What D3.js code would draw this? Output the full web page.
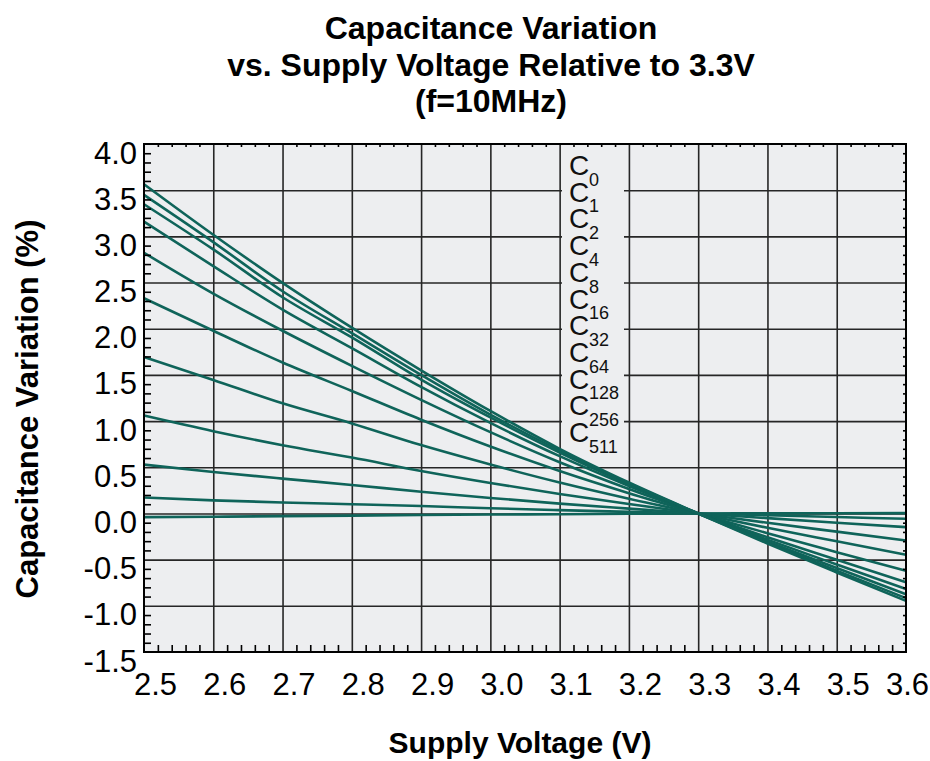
<!DOCTYPE html>
<html><head><meta charset="utf-8">
<script src="https://cdn.jsdelivr.net/npm/d3@7/dist/d3.min.js"></script>
<style>body{margin:0;background:#fff}svg{display:block}</style>
</head><body>
<svg id="chart" width="930" height="761"></svg>
<script>
// ---- data ----
const voltages = [2.5, 2.6, 2.7, 2.8, 2.9, 3.0, 3.1, 3.2, 3.3, 3.4, 3.5, 3.6];
const codes = ["0", "1", "2", "4", "8", "16", "32", "64", "128", "256", "511"];
const vC0   = [-0.040, -0.035, -0.029, -0.023, -0.017, -0.012, -0.008, -0.004, 0, 0.001, 0.003, 0.004];
const vC1   = [0.172, 0.142, 0.119, 0.100, 0.080, 0.057, 0.036, 0.017, 0, -0.020, -0.039, -0.058];
const vC2   = [0.529, 0.449, 0.377, 0.308, 0.235, 0.168, 0.106, 0.052, 0, -0.051, -0.100, -0.148];
const vC4   = [1.060, 0.891, 0.739, 0.605, 0.460, 0.330, 0.210, 0.102, 0, -0.101, -0.197, -0.292];
const vC8   = [1.695, 1.446, 1.192, 0.975, 0.740, 0.530, 0.335, 0.160, 0, -0.155, -0.302, -0.448];
const vC16  = [2.330, 1.978, 1.634, 1.326, 1.015, 0.725, 0.460, 0.220, 0, -0.214, -0.419, -0.621];
const vC32  = [2.822, 2.380, 1.978, 1.598, 1.230, 0.880, 0.555, 0.265, 0, -0.257, -0.502, -0.744];
const vC64  = [3.159, 2.678, 2.207, 1.790, 1.370, 0.980, 0.620, 0.297, 0, -0.283, -0.553, -0.819];
const vC128 = [3.348, 2.859, 2.341, 1.906, 1.450, 1.040, 0.660, 0.315, 0, -0.302, -0.590, -0.874];
const vC256 = [3.449, 2.938, 2.406, 1.953, 1.500, 1.070, 0.680, 0.325, 0, -0.316, -0.619, -0.917];
const vC511 = [3.565, 3.018, 2.496, 2.011, 1.550, 1.110, 0.700, 0.335, 0, -0.326, -0.639, -0.946];
const seriesValues = [vC0, vC1, vC2, vC4, vC8, vC16, vC32, vC64, vC128, vC256, vC511];
const xTickLabels = ["2.5","2.6","2.7","2.8","2.9","3.0","3.1","3.2","3.3","3.4","3.5","3.6"];
const yTickLabels = ["4.0","3.5","3.0","2.5","2.0","1.5","1.0","0.5","0.0","-0.5","-1.0","-1.5"];
const titleLines = ["Capacitance Variation", "vs. Supply Voltage Relative to 3.3V", "(f=10MHz)"];

// ---- layout ----
const L = 144, R = 906, T = 144, B = 652;
const svg = d3.select("#chart");
const x = d3.scaleLinear().domain([2.5, 3.6]).range([L, R]);
const y = d3.scaleLinear().domain([-1.5, 4.0]).range([B, T]);
const font = "'Liberation Sans', Arial, Helvetica, sans-serif";
const lineColor = "#0f645a";

// background
svg.append("rect").attr("x", L).attr("y", T).attr("width", R - L).attr("height", B - T).attr("fill", "#edeef0");

// gridlines
const xGridVals = d3.range(1, 11).map(i => +(2.5 + i * 0.1).toFixed(2));
const yGridVals = d3.range(1, 11).map(i => +(-1.5 + i * 0.5).toFixed(2));
svg.append("g").attr("transform", `translate(0,${B})`)
  .call(d3.axisBottom(x).tickValues(xGridVals).tickSize(-(B - T)).tickFormat(""))
  .call(g => g.select(".domain").remove())
  .call(g => g.selectAll("line").attr("stroke", "#262626").attr("stroke-width", 1.6));
svg.append("g").attr("transform", `translate(${L},0)`)
  .call(d3.axisLeft(y).tickValues(yGridVals).tickSize(-(R - L)).tickFormat(""))
  .call(g => g.select(".domain").remove())
  .call(g => g.selectAll("line").attr("stroke", "#262626").attr("stroke-width", 1.6));

// legend panel (covers grid)
svg.append("rect").attr("x", 562).attr("y", T + 1).attr("width", 62).attr("height", 315).attr("fill", "#edeef0");

// lines
const line = d3.line().x((d, i) => x(voltages[i])).y(d => y(d)).curve(d3.curveMonotoneX);
svg.append("g").selectAll("path").data(seriesValues).join("path")
  .attr("d", d => line(d)).attr("fill", "none").attr("stroke", lineColor).attr("stroke-width", 2.6);

// legend text
const lg = svg.append("g").attr("font-family", font).attr("fill", "#111");
codes.forEach((c, i) => {
  const by = 175 + i * 26.7;
  lg.append("text").attr("x", 569).attr("y", by).attr("font-size", 28).text("C");
  lg.append("text").attr("x", 589).attr("y", by + 10.7).attr("font-size", 18).text(c);
});

// minor ticks
const minorX = d3.range(0, 56).map(i => +(2.5 + i * 0.02).toFixed(3)).filter(v => Math.abs(v * 10 - Math.round(v * 10)) > 1e-6);
const minorY = d3.range(0, 56).map(i => +(-1.5 + i * 0.1).toFixed(2)).filter(v => Math.abs(v * 2 - Math.round(v * 2)) > 1e-6);
function styleTicks(g) { g.select(".domain").remove(); g.selectAll("line").attr("stroke", "#000").attr("stroke-width", 1.6); }
svg.append("g").attr("transform", `translate(0,${B})`).call(d3.axisBottom(x).tickValues(minorX).tickSize(-7).tickFormat("")).call(styleTicks);
svg.append("g").attr("transform", `translate(0,${T})`).call(d3.axisTop(x).tickValues(minorX).tickSize(-3).tickFormat("")).call(styleTicks);
svg.append("g").attr("transform", `translate(${L},0)`).call(d3.axisLeft(y).tickValues(minorY).tickSize(-7).tickFormat("")).call(styleTicks);
svg.append("g").attr("transform", `translate(${R},0)`).call(d3.axisRight(y).tickValues(minorY).tickSize(-3).tickFormat("")).call(styleTicks);

// frame
svg.append("rect").attr("x", L).attr("y", T).attr("width", R - L).attr("height", B - T).attr("fill", "none").attr("stroke", "#000").attr("stroke-width", 2);

// tick labels
const xLab = svg.append("g").attr("transform", `translate(0,${B})`)
  .call(d3.axisBottom(x).tickValues(voltages).tickSize(0).tickFormat((d, i) => xTickLabels[i]));
xLab.select(".domain").remove();
xLab.selectAll("text").attr("font-family", font).attr("font-size", 31).attr("fill", "#000")
  .attr("dy", 0).attr("y", 43).attr("dx", (d, i) => i === voltages.length - 1 ? 1 : 11);

const yVals = yTickLabels.map(Number);
const yLab = svg.append("g").attr("transform", `translate(${L},0)`)
  .call(d3.axisLeft(y).tickValues(yVals).tickSize(0).tickFormat((d, i) => yTickLabels[i]));
yLab.select(".domain").remove();
yLab.selectAll("text").attr("font-family", font).attr("font-size", 31).attr("fill", "#000")
  .attr("x", -7).attr("dy", 19);

// titles
const tg = svg.append("g").attr("font-family", font).attr("font-weight", "bold").attr("text-anchor", "middle").attr("fill", "#000");
[39, 76, 112].forEach((by, i) => tg.append("text").attr("x", 491).attr("y", by).attr("font-size", 32).text(titleLines[i]));
tg.append("text").attr("x", 520).attr("y", 753).attr("font-size", 30).text("Supply Voltage (V)");
tg.append("text").attr("transform", "translate(38,409) rotate(-90)").attr("font-size", 31).text("Capacitance Variation (%)");
</script>
</body></html>
